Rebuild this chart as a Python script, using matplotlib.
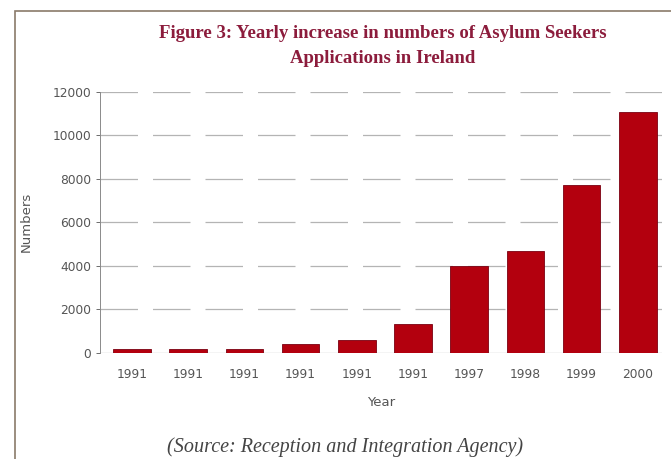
import matplotlib.pyplot as plt
from matplotlib.patches import Rectangle

# data
years = ['1991', '1991', '1991', '1991', '1991', '1991', '1997', '1998', '1999', '2000']
applications = [190, 190, 190, 385, 585, 1320, 4000, 4690, 7715, 11090]
yticks = [0, 2000, 4000, 6000, 8000, 10000, 12000]

fig = plt.figure(figsize=(6.71, 4.59), dpi=100)
ax = fig.add_axes([0.149, 0.2316, 0.8375, 0.5684])

x = range(len(years))
ax.bar(x, applications, width=0.67, color='#b3000e', edgecolor='#7a0010', linewidth=0.6, zorder=3)

ax.set_ylim(0, 12000)
ax.set_xlim(-0.57, 9.43)
ax.set_yticks(yticks)
ax.set_yticklabels([str(v) for v in yticks])
ax.set_xticks(list(x))
ax.set_xticklabels(years)
ax.tick_params(axis='both', labelsize=8.8, colors='#555555', length=3, width=0.6)
ax.tick_params(axis='x', length=0, pad=11)

# dashed grid lines, long dashes like the print
for v in yticks[1:]:
    ax.axhline(v, color='#b4b4b4', linewidth=0.9, linestyle=(0, (30, 12)), zorder=1)
ax.axhline(0, color='#a8a8a8', linewidth=0.9, zorder=2)

for s in ['top', 'right', 'bottom']:
    ax.spines[s].set_visible(False)
ax.spines['left'].set_color('#8a8a8a')
ax.spines['left'].set_linewidth(0.7)

ax.set_ylabel('Numbers', fontsize=9.5, color='#555555', labelpad=14)
ax.set_xlabel('Year', fontsize=9.5, color='#555555', labelpad=11)

fig.text(0.57, 0.9, 'Figure 3: Yearly increase in numbers of Asylum Seekers\nApplications in Ireland',
         ha='center', va='center', fontsize=13.5, fontweight='bold', family='Liberation Serif',
         color='#8c1c3c', linespacing=1.6)
fig.text(0.514, 0.026, '(Source: Reception and Integration Agency)', ha='center', va='center',
         fontsize=14.5, style='italic', family='Liberation Serif', color='#444444')

# frame round the figure
fig.patches.append(Rectangle((0.022, -0.2), 1.2, 1.176, transform=fig.transFigure,
                             fill=False, edgecolor='#8a7a6a', linewidth=1.2))

fig.savefig('out.png', dpi=100)
